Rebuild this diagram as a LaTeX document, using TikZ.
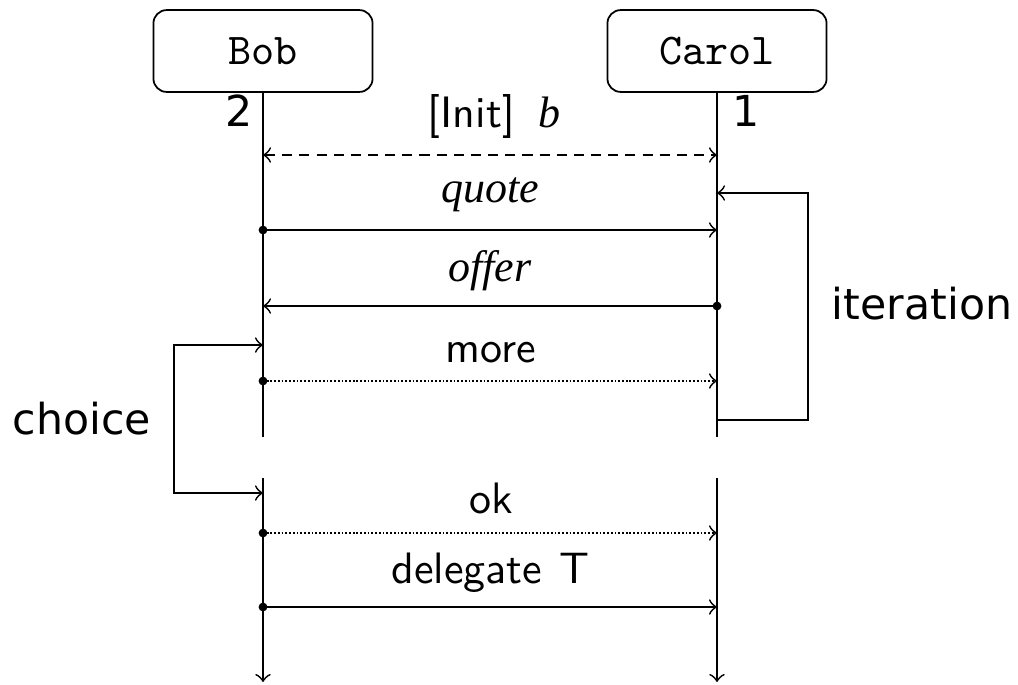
\documentclass[tikz,border=0pt]{standalone}
\usepackage{fontspec}
\newfontfamily\dvs{DejaVu Sans}
\newfontfamily\tms{Liberation Serif}
\begin{document}
\begin{tikzpicture}[x=0.2273pt,y=-0.2273pt,
  actor/.style={draw,rounded corners=3pt,minimum width=49.8pt,minimum height=18.6pt,font=\ttfamily,inner sep=0},
  lbl/.style={inner sep=0,anchor=base},
  slbl/.style={lbl,font=\sffamily},
  ilbl/.style={lbl,font=\tms\itshape},
  dlbl/.style={inner sep=0,font=\dvs\fontsize{9.7pt}{11pt}\selectfont},
  msgdot/.style={fill},
  dotline/.style={dash pattern=on 0.4pt off 0.45pt},
  dashline/.style={dash pattern=on 2.3pt off 1.6pt},
  >=to]
\useasboundingbox (0,0) rectangle (1018,684);
% actors
\node[actor] (bob) at (263,51) {Bob};
\node[actor] (carol) at (717,51) {Carol};
% lifeline coordinates
\coordinate (bU) at (263,437);
\coordinate (bL) at (263,478);
\coordinate (bE) at (263,682);
\coordinate (cU) at (717,437);
\coordinate (cL) at (717,478);
\coordinate (cE) at (717,682);
\draw (bob.south) -- (bU);
\draw[->] (bL) -- (bE);
\draw (carol.south) -- (cU);
\draw[->] (cL) -- (cE);
% role numbers
\node[dlbl,anchor=base east] (n2) at (254,126) {2};
\node[dlbl,anchor=base west] (n1) at (732,126) {1};
% message coordinates
\coordinate (b1) at (263,155); \coordinate (c1) at (717,155);
\coordinate (b2) at (263,230); \coordinate (c2) at (717,230);
\coordinate (b3) at (263,306); \coordinate (c3) at (717,306);
\coordinate (b4) at (263,381); \coordinate (c4) at (717,381);
\coordinate (b5) at (263,533); \coordinate (c5) at (717,533);
\coordinate (b6) at (263,607); \coordinate (c6) at (717,607);
% labels
\node[slbl] (linit) at (494,127) {[Init]\hspace{5.3pt}{\tms\itshape b}};
\node[ilbl] (lquote) at (490,202) {quote};
\node[ilbl] (loffer) at (490,281) {offer};
\node[slbl] (lmore) at (491,362) {more};
\node[slbl] (lok) at (491,513) {ok};
\node[slbl] (ldel) at (490.5,583) {delegate\hspace{4pt}T};
% messages
\draw[<->,dashline] (b1) -- (c1);
\draw[->] (b2) -- (c2); \fill (b2) circle (1pt);
\draw[->] (c3) -- (b3); \fill (c3) circle (1pt);
\draw[->,dotline] (b4) -- (c4); \fill (b4) circle (1pt);
\draw[->,dotline] (b5) -- (c5); \fill (b5) circle (1pt);
\draw[->] (b6) -- (c6); \fill (b6) circle (1pt);
% iteration
\coordinate (it1) at (717,420);
\coordinate (it2) at (808,420);
\coordinate (it3) at (808,193);
\coordinate (it4) at (717,193);
\draw[->] (it1) -- (it2) -- (it3) -- (it4);
\node[dlbl,anchor=base west] (liter) at (831,319) {iteration};
% choice
\coordinate (ch1) at (263,345);
\coordinate (ch2) at (174,345);
\coordinate (ch3) at (174,493);
\coordinate (ch4) at (263,493);
\draw[<->] (ch1) -- (ch2) -- (ch3) -- (ch4);
\node[dlbl,anchor=base east] (lchoice) at (152,434) {choice};
\end{tikzpicture}
\end{document}
